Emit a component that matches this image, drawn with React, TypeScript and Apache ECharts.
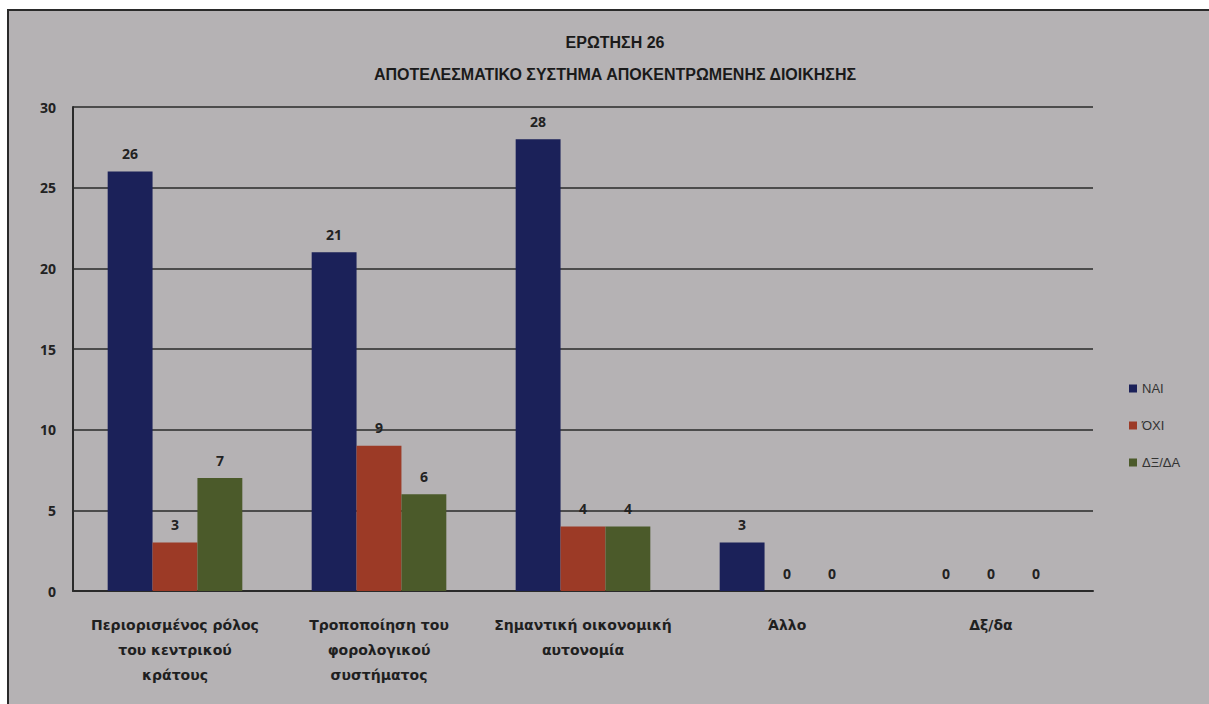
import React, { useEffect, useRef } from "react";
import * as echarts from "echarts";

const categories = [
  "Περιορισμένος ρόλος\nτου κεντρικού\nκράτους",
  "Τροποποίηση του\nφορολογικού\nσυστήματος",
  "Σημαντική οικονομική\nαυτονομία",
  "Άλλο",
  "Δξ/δα",
];
const seriesNames = ["ΝΑΙ", "ΌΧΙ", "ΔΞ/ΔΑ"];
const naiValues = [26, 21, 28, 3, 0];
const oxiValues = [3, 9, 4, 0, 0];
const dkValues = [7, 6, 4, 0, 0];
const colors = ["#1b2159", "#9c3a26", "#4b5a2a"];
const titleLines = ["ΕΡΩΤΗΣΗ 26", "ΑΠΟΤΕΛΕΣΜΑΤΙΚΟ ΣΥΣΤΗΜΑ ΑΠΟΚΕΝΤΡΩΜΕΝΗΣ ΔΙΟΙΚΗΣΗΣ"];

export default function App() {
  const ref = useRef<HTMLDivElement>(null);
  useEffect(() => {
    if (!ref.current) return;
    const chart = echarts.init(ref.current, null, { renderer: "svg" });
    const values = [naiValues, oxiValues, dkValues];
    const font = "'Liberation Sans Narrow', 'Liberation Sans', Arial, sans-serif";
    chart.setOption({
      animation: false,
      backgroundColor: "#ffffff",
      graphic: [
        {
          type: "rect",
          shape: { x: 8, y: 10, width: 1210, height: 700 },
          style: { fill: "#b5b2b4", stroke: "#2a2a2a", lineWidth: 2 },
          z: -10,
        },
      ],
      title: {
        text: titleLines.join("\n"),
        left: 610,
        textAlign: "center",
        top: 21,
        textStyle: {
          fontFamily: font,
          fontWeight: "bold",
          fontSize: 16,
          lineHeight: 32,
          color: "#1a1a1a",
        },
      },
      legend: {
        orient: "vertical",
        left: 1124,
        top: 377,
        itemWidth: 8,
        itemHeight: 8,
        itemGap: 24,
        icon: "rect",
        textStyle: { fontFamily: font, fontSize: 13, color: "#333" },
        data: seriesNames,
      },
      grid: { left: 73, right: 116, top: 107, bottom: 113, containLabel: false },
      xAxis: {
        type: "category",
        data: categories,
        axisLine: { lineStyle: { color: "#2a2a2a", width: 2 } },
        axisTick: { show: false },
        axisLabel: {
          interval: 0,
          margin: 21,
          fontFamily: "'DejaVu Sans', sans-serif",
          fontWeight: "bold",
          fontSize: 14,
          lineHeight: 25,
          color: "#1f1f1f",
        },
      },
      yAxis: {
        type: "value",
        min: 0,
        max: 30,
        interval: 5,
        axisLine: { show: true, lineStyle: { color: "#2a2a2a", width: 2 } },
        axisTick: { show: false },
        splitLine: { lineStyle: { color: "#2a2a2a", width: 1.5 } },
        axisLabel: {
          margin: 17,
          fontFamily: "'Open Sans', 'DejaVu Sans', sans-serif",
          fontWeight: "bold",
          fontSize: 14,
          color: "#222",
        },
      },
      series: seriesNames.map((name, i) => ({
        name,
        type: "bar",
        data: values[i],
        barGap: "0%",
        barCategoryGap: "34%",
        itemStyle: { color: colors[i] },
        label: {
          show: true,
          position: "top",
          distance: 11,
          fontFamily: "'Open Sans', 'DejaVu Sans', sans-serif",
          fontWeight: "bold",
          fontSize: 14,
          color: "#222",
        },
      })),
    });
    return () => chart.dispose();
  }, []);
  return (
    <div
      ref={ref}
      style={{ position: "absolute", left: 0, top: 0, width: 1209, height: 704 }}
    />
  );
}
